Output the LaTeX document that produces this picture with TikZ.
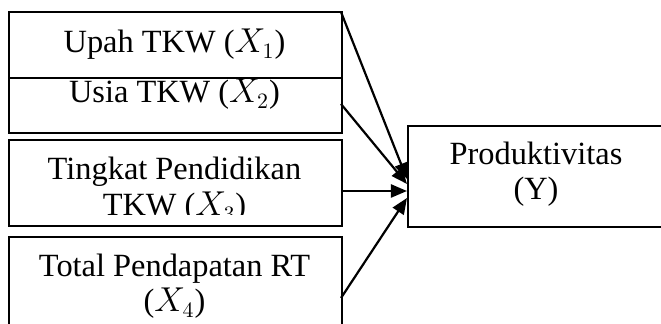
\documentclass[tikz,border=0pt]{standalone}
\usepackage{fontspec}
\setmainfont{Liberation Serif}
\usetikzlibrary{arrows.meta}
\begin{document}
\begin{tikzpicture}[x=0.5pt,y=-0.5pt,
  box/.style={draw=black, line width=1.1pt, rectangle, inner sep=0pt},
  lbl/.style={anchor=base, inner sep=0pt, font=\fontsize{16.2}{18}\selectfont},
  link/.style={line width=1.1pt, -{Triangle[length=8pt,width=6.5pt]}}]
\useasboundingbox (0,0) rectangle (661,324);
\clip (0,0) rectangle (661,324);

% left-hand boxes
\node[box, anchor=north west, minimum width=166.5pt, minimum height=33pt] (b1) at (8,11) {};
\node[box, anchor=north west, minimum width=166.5pt, minimum height=27.5pt] (b2) at (8,77) {};
\node[box, anchor=north west, minimum width=166.5pt, minimum height=43pt] (b3) at (8,139) {};
\node[box, anchor=north west, minimum width=166.5pt, minimum height=60pt] (b4) at (8,236) {};
% dependent variable
\node[box, anchor=north west, minimum width=129pt, minimum height=50.5pt] (y) at (407,125) {};

% labels
\node[lbl] (t1) at (174.5,53) {Upah TKW ($X_1$)};
\node[lbl] (t2) at (174.5,103) {Usia TKW ($X_2$)};
\node[lbl] (t3a) at (174.5,180) {Tingkat Pendidikan};
\begin{scope}
  \clip (8,139) rectangle (341,214.5);
  \node[lbl] (t3b) at (174.5,216) {TKW ($X_3$)};
\end{scope}
\node[lbl] (t4a) at (174.5,277) {Total Pendapatan RT};
\node[lbl] (t4b) at (174.5,312) {($X_4$)};
\node[lbl] (ty1) at (536,165) {Produktivitas};
\node[lbl] (ty2) at (536,200) {(Y)};

% arrow end points
\coordinate (s1) at (341,12);
\coordinate (s2) at (341,104);
\coordinate (s3) at (341,191);
\coordinate (s4) at (341,298);
\coordinate (e1) at (407,179);
\coordinate (e2) at (407,184);
\coordinate (e3) at (407,191);
\coordinate (e4) at (407,198);

\draw[link] (s1) -- (e1);
\draw[link] (s2) -- (e2);
\draw[link] (s3) -- (e3);
\draw[link] (s4) -- (e4);
\end{tikzpicture}
\end{document}
